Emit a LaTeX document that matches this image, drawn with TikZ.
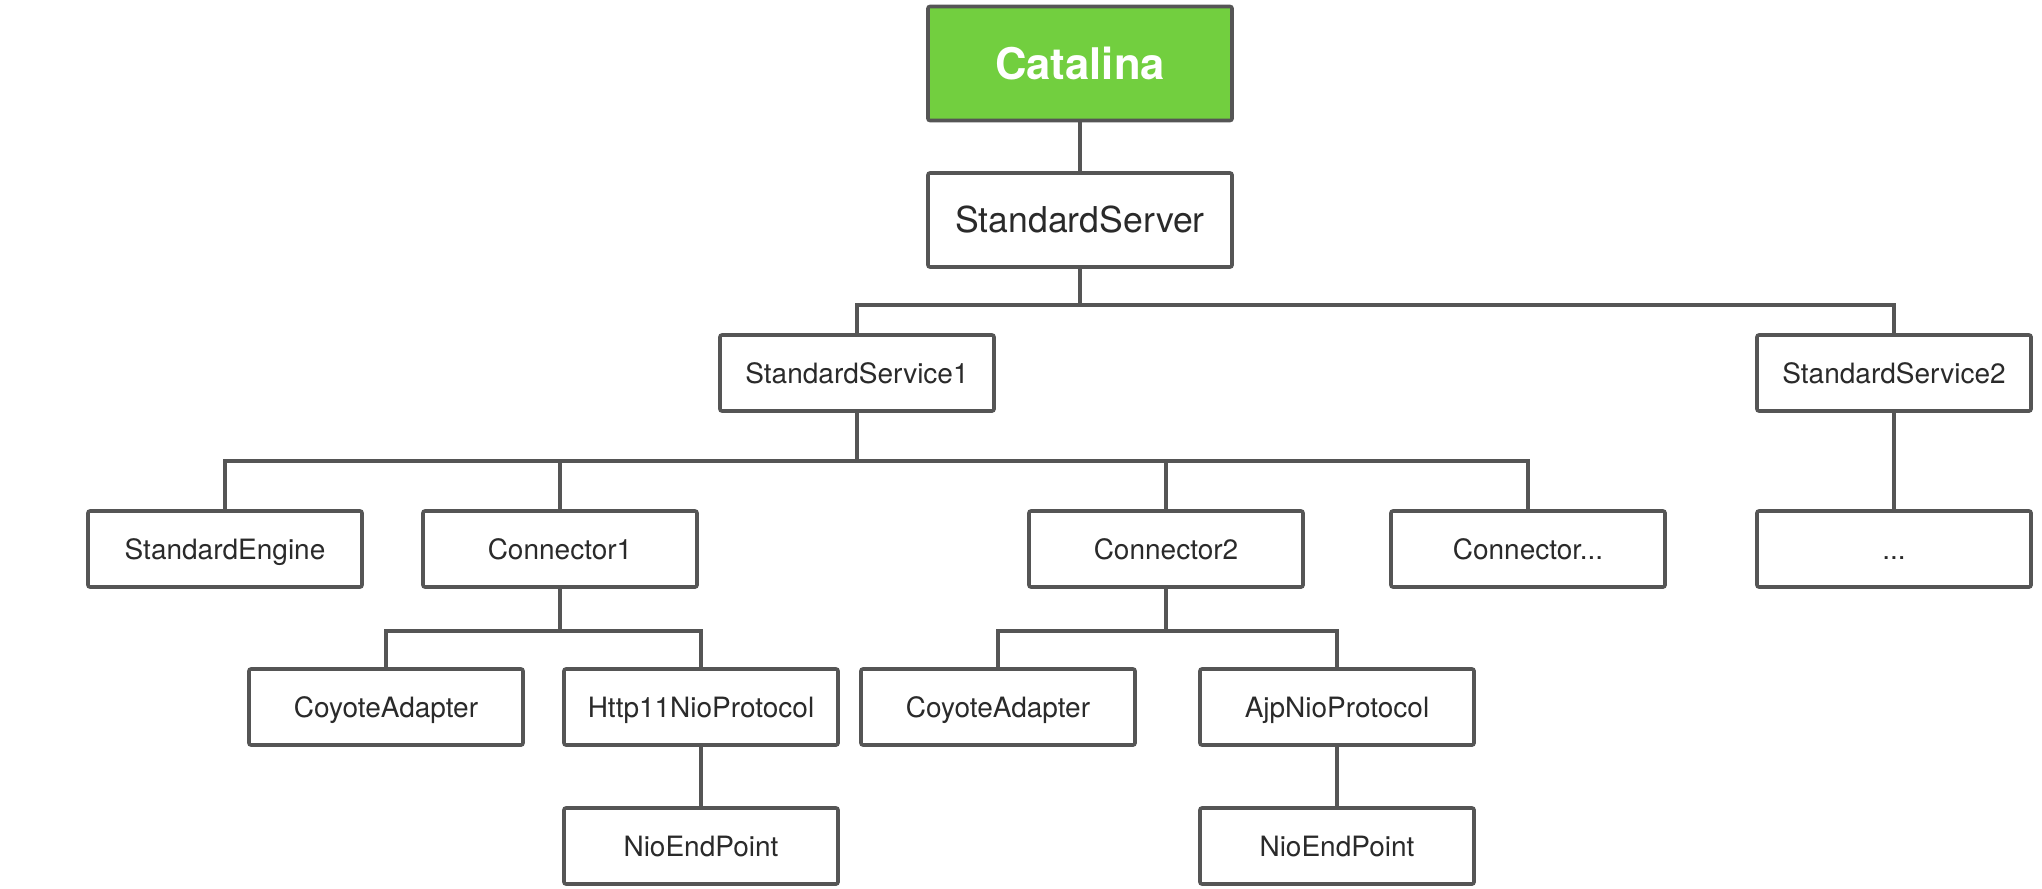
\documentclass[tikz,border=0pt]{standalone}
\usepackage{fontspec}
\setmainfont{TeX Gyre Heros}
\usetikzlibrary{positioning}
\definecolor{boxline}{HTML}{555555}
\definecolor{boxtext}{HTML}{2A2A2A}
\definecolor{catalinagreen}{HTML}{72CF3F}

\begin{document}
\begin{tikzpicture}[%
        x=0.5pt,
        y=-0.5pt,
        box/.style={%
            draw=boxline,
            fill=white,
            line width=1.8pt,
            rounded corners=1pt,
            inner sep=0pt,
            minimum width=137pt,
            minimum height=38pt,
            text height=10pt,
            text depth=0pt,
            text=boxtext,
            node font=\fontsize{14pt}{16pt}\selectfont,
        },
        topbox/.style={%
            box,
            minimum width=152pt,
            minimum height=47pt,
            text height=12.8pt,
            node font=\fontsize{17.8pt}{20pt}\selectfont,
        },
        link/.style={%
            draw=boxline,
            line width=1.8pt,
        },
    ]

    \useasboundingbox (0,0) rectangle (2042,889);

    \node (catalina) at (1080,63.5) [topbox, fill=catalinagreen, minimum height=57pt, text height=15.7pt, text=white, node font=\fontsize{21.8pt}{24pt}\selectfont\bfseries] {Catalina};
    \node (server) at (1080,220) [topbox] {StandardServer};

    \node (service1) at (857,373) [box] {StandardService1};
    \node (service2) at (1894,373) [box] {StandardService2};

    \node (engine) at (225,549) [box] {StandardEngine};
    \node (connector1) at (560,549) [box] {Connector1};
    \node (connector2) at (1166,549) [box] {Connector2};
    \node (connector_more) at (1528,549) [box] {Connector...};
    \node (service2_more) at (1894,549) [box] {...};

    \node (adapter1) at (386,707) [box] {CoyoteAdapter};
    \node (http_protocol) at (701,707) [box] {Http11NioProtocol};
    \node (adapter2) at (998,707) [box] {CoyoteAdapter};
    \node (ajp_protocol) at (1337,707) [box] {AjpNioProtocol};

    \node (endpoint1) at (701,846) [box] {NioEndPoint};
    \node (endpoint2) at (1337,846) [box] {NioEndPoint};

    \draw [link] (catalina) -- (server);
    \foreach \child in {service1,service2} {%
        \draw [link] (server.south) -- ++(0,36) -| (\child.north);
    }
    \foreach \child in {engine,connector1,connector2,connector_more} {%
        \draw [link] (service1.south) -- ++(0,48) -| (\child.north);
    }
    \draw [link] (service2) -- (service2_more);
    \foreach \child in {adapter1,http_protocol} {%
        \draw [link] (connector1.south) -- ++(0,42) -| (\child.north);
    }
    \foreach \child in {adapter2,ajp_protocol} {%
        \draw [link] (connector2.south) -- ++(0,42) -| (\child.north);
    }
    \draw [link] (http_protocol) -- (endpoint1);
    \draw [link] (ajp_protocol) -- (endpoint2);
\end{tikzpicture}
\end{document}
